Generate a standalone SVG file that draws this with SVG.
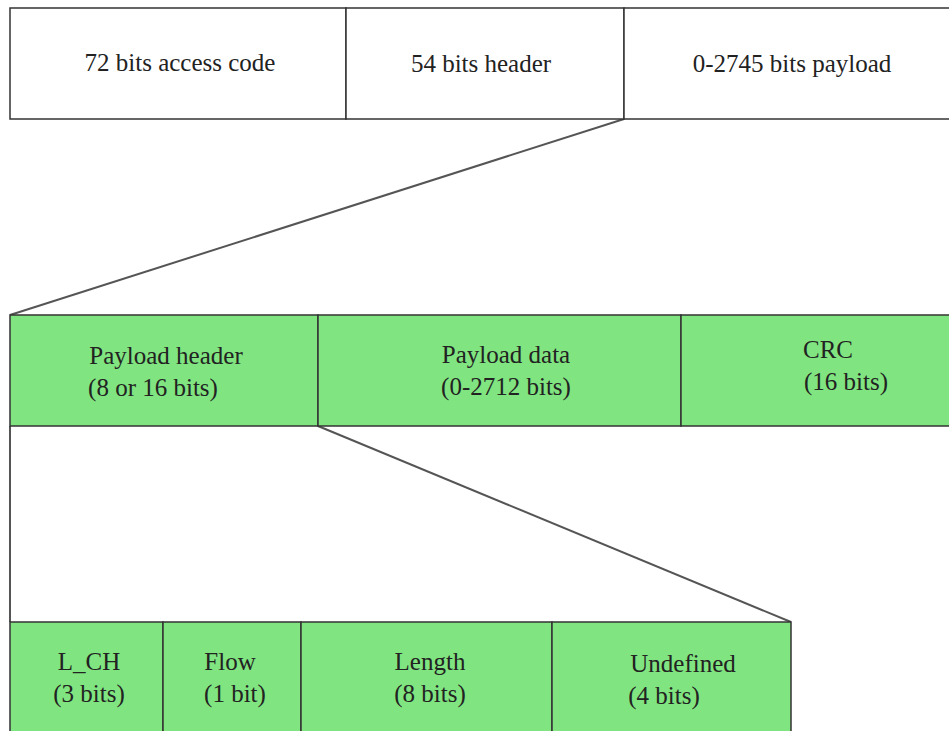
<svg xmlns="http://www.w3.org/2000/svg" width="949" height="731" viewBox="0 0 949 731">
<style>
.box{stroke:#333;stroke-width:1.5}
.w{fill:#fff}
.g{fill:#80e580}
.t{font-family:"Liberation Serif","DejaVu Serif",serif;font-size:25px;fill:#222;text-anchor:middle}
.c{stroke:#555;stroke-width:2;fill:none}
</style>
<rect width="949" height="731" fill="#fff"/>
<g id="connectors">
<line class="c" x1="624" y1="119" x2="10" y2="315"/>
<line class="c" x1="318" y1="426" x2="791" y2="622"/>
<line class="c" x1="10" y1="426" x2="10" y2="622"/>
</g>
<g id="access-code"><rect class="box w" x="10" y="8" width="336" height="111"/><text class="t" x="180" y="71">72 bits access code</text></g>
<g id="header"><rect class="box w" x="346" y="8" width="278" height="111"/><text class="t" x="481" y="72">54 bits header</text></g>
<g id="payload"><rect class="box w" x="624" y="8" width="340" height="111"/><text class="t" x="792" y="72">0-2745 bits payload</text></g>
<g id="payload-header"><rect class="box g" x="10" y="315" width="308" height="111"/><text class="t" x="166" y="364">Payload header</text><text class="t" x="153" y="396">(8 or 16 bits)</text></g>
<g id="payload-data"><rect class="box g" x="318" y="315" width="363" height="111"/><text class="t" x="506" y="363">Payload data</text><text class="t" x="506" y="395">(0-2712 bits)</text></g>
<g id="crc"><rect class="box g" x="681" y="315" width="280" height="111"/><text class="t" x="828" y="358">CRC</text><text class="t" x="846" y="390">(16 bits)</text></g>
<g id="lch"><rect class="box g" x="10" y="622" width="153" height="120"/><text class="t" x="89" y="670">L_CH</text><text class="t" x="89" y="702">(3 bits)</text></g>
<g id="flow"><rect class="box g" x="163" y="622" width="138" height="120"/><text class="t" x="230" y="670">Flow</text><text class="t" x="235" y="702">(1 bit)</text></g>
<g id="length"><rect class="box g" x="301" y="622" width="251" height="120"/><text class="t" x="430" y="670">Length</text><text class="t" x="430" y="702">(8 bits)</text></g>
<g id="undefined"><rect class="box g" x="552" y="622" width="239" height="120"/><text class="t" x="683" y="672">Undefined</text><text class="t" x="664" y="704">(4 bits)</text></g>
</svg>
